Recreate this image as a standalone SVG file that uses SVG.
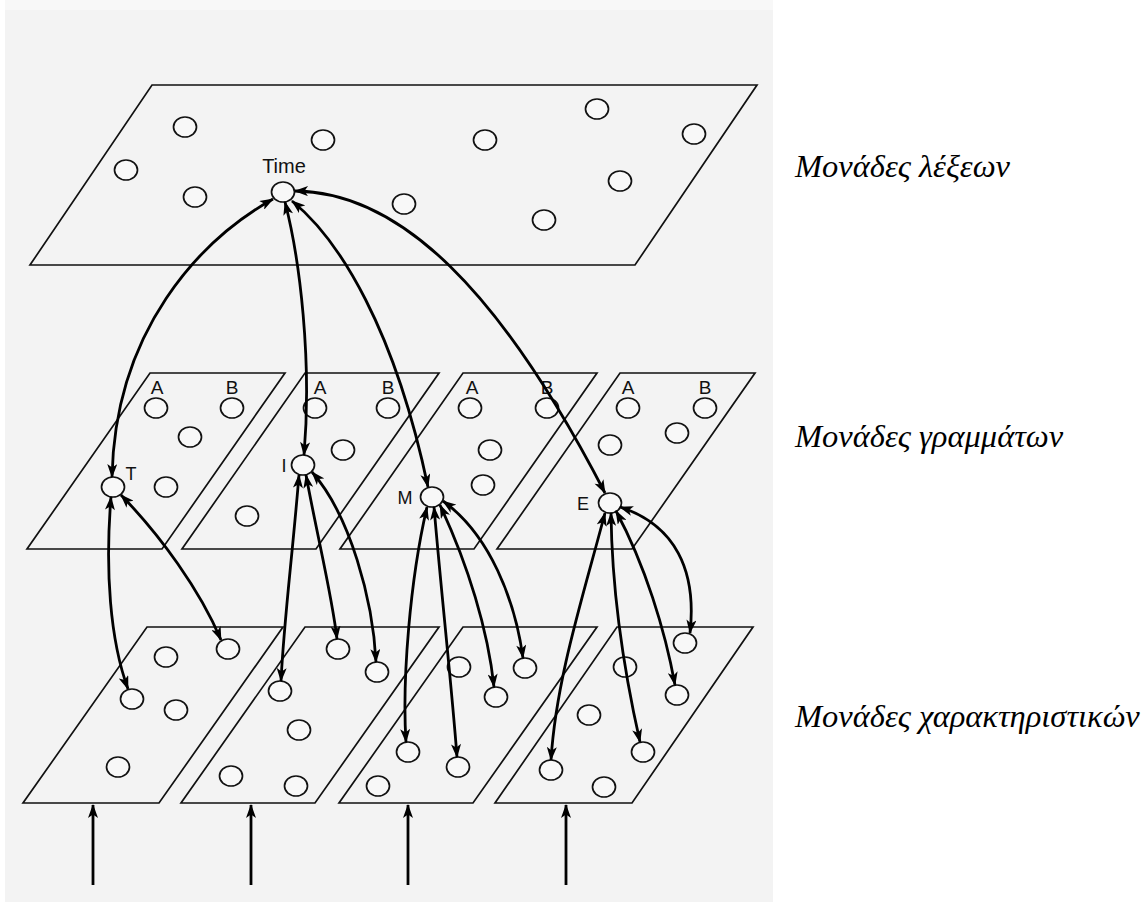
<svg xmlns="http://www.w3.org/2000/svg" width="1145" height="902" viewBox="0 0 1145 902">
<defs>
<marker id="ah" viewBox="0 0 14 10" markerWidth="15" markerHeight="10" markerUnits="userSpaceOnUse" refX="13" refY="5" orient="auto-start-reverse">
<path d="M0,0 L14,5 L0,10 L3.5,5 z" fill="#000"/>
</marker>
<style>
.plane{fill:none;stroke:#111;stroke-width:1.7;stroke-linejoin:miter}
.n{fill:#f8f8f8;stroke:#111;stroke-width:1.7}
.lab{font-family:"Liberation Sans",Arial,sans-serif;fill:#111;text-anchor:middle}
.c{fill:none;stroke:#000;stroke-width:2.8;marker-start:url(#ah);marker-end:url(#ah)}
.in{fill:none;stroke:#000;stroke-width:2.8;marker-end:url(#ah)}
.side{font-family:"Liberation Serif","Times New Roman",serif;font-style:italic;font-size:32.5px;fill:#000}
</style>
</defs>
<rect x="0" y="0" width="1145" height="902" fill="#fff"/>
<rect x="5" y="0" width="768" height="10" fill="#f8f8f8"/>
<rect x="5" y="10" width="768" height="892" fill="#f3f3f3"/>

<g id="planes">
<polygon class="plane" points="152,85 757,85 635,265 30,265"/>
<polygon class="plane" points="150,373 285,373 162,549 27,549"/>
<polygon class="plane" points="305,373 439,373 316,549 182,549"/>
<polygon class="plane" points="463,373 597,373 474,549 340,549"/>
<polygon class="plane" points="620,373 755,373 632,549 497,549"/>
<polygon class="plane" points="147,627 283,627 159,803 23,803"/>
<polygon class="plane" points="305,627 439,627 315,803 181,803"/>
<polygon class="plane" points="463,627 597,627 473,803 339,803"/>
<polygon class="plane" points="617,627 753,627 632,803 495,803"/>
</g>

<g id="word-units">
<g id="w1"><ellipse class="n" cx="185" cy="127" rx="11.5" ry="10"/></g>
<g id="w2"><ellipse class="n" cx="323" cy="140" rx="11.5" ry="10"/></g>
<g id="w3"><ellipse class="n" cx="126" cy="170" rx="11.5" ry="10"/></g>
<g id="w4"><ellipse class="n" cx="195" cy="197" rx="11.5" ry="10"/></g>
<g id="time"><ellipse class="n" cx="283" cy="192" rx="11.5" ry="10"/><text class="lab" x="284" y="173" font-size="20">Time</text></g>
<g id="w6"><ellipse class="n" cx="404" cy="204" rx="11.5" ry="10"/></g>
<g id="w7"><ellipse class="n" cx="597" cy="109" rx="11.5" ry="10"/></g>
<g id="w8"><ellipse class="n" cx="485" cy="140" rx="11.5" ry="10"/></g>
<g id="w9"><ellipse class="n" cx="694" cy="134" rx="11.5" ry="10"/></g>
<g id="w10"><ellipse class="n" cx="620" cy="181" rx="11.5" ry="10"/></g>
<g id="w11"><ellipse class="n" cx="544" cy="220" rx="11.5" ry="10"/></g>
</g>

<g id="letter-units">
<g id="l1-labels"><text class="lab" x="157" y="394" font-size="19">A</text><text class="lab" x="232" y="394" font-size="19">B</text></g>
<g id="l1a"><ellipse class="n" cx="156" cy="408" rx="11.5" ry="10"/></g>
<g id="l1b"><ellipse class="n" cx="232" cy="408" rx="11.5" ry="10"/></g>
<g id="l1c"><ellipse class="n" cx="190" cy="437" rx="11.5" ry="10"/></g>
<g id="l1d"><ellipse class="n" cx="166" cy="487" rx="11.5" ry="10"/></g>
<g id="letT"><ellipse class="n" cx="113" cy="487" rx="11.5" ry="10"/><text class="lab" x="131" y="480" font-size="18">T</text></g>

<g id="l2-labels"><text class="lab" x="320" y="394" font-size="19">A</text><text class="lab" x="388" y="394" font-size="19">B</text></g>
<g id="l2a"><ellipse class="n" cx="315" cy="408" rx="11.5" ry="10"/></g>
<g id="l2b"><ellipse class="n" cx="388" cy="408" rx="11.5" ry="10"/></g>
<g id="l2c"><ellipse class="n" cx="343" cy="450" rx="11.5" ry="10"/></g>
<g id="l2d"><ellipse class="n" cx="247" cy="516" rx="11.5" ry="10"/></g>
<g id="letI"><ellipse class="n" cx="303" cy="465" rx="11.5" ry="10"/><text class="lab" x="284" y="472" font-size="18">I</text></g>

<g id="l3-labels"><text class="lab" x="472" y="394" font-size="19">A</text><text class="lab" x="547" y="394" font-size="19">B</text></g>
<g id="l3a"><ellipse class="n" cx="470" cy="408" rx="11.5" ry="10"/></g>
<g id="l3b"><ellipse class="n" cx="547" cy="408" rx="11.5" ry="10"/></g>
<g id="l3c"><ellipse class="n" cx="490" cy="450" rx="11.5" ry="10"/></g>
<g id="l3d"><ellipse class="n" cx="483" cy="485" rx="11.5" ry="10"/></g>
<g id="letM"><ellipse class="n" cx="432" cy="497" rx="11.5" ry="10"/><text class="lab" x="405" y="504" font-size="18">M</text></g>

<g id="l4-labels"><text class="lab" x="628" y="394" font-size="19">A</text><text class="lab" x="705" y="394" font-size="19">B</text></g>
<g id="l4a"><ellipse class="n" cx="628" cy="408" rx="11.5" ry="10"/></g>
<g id="l4b"><ellipse class="n" cx="705" cy="408" rx="11.5" ry="10"/></g>
<g id="l4c"><ellipse class="n" cx="677" cy="433" rx="11.5" ry="10"/></g>
<g id="l4d"><ellipse class="n" cx="610" cy="445" rx="11.5" ry="10"/></g>
<g id="letE"><ellipse class="n" cx="610" cy="503" rx="11.5" ry="10"/><text class="lab" x="583" y="510" font-size="18">E</text></g>
</g>

<g id="feature-units">
<g id="f1a"><ellipse class="n" cx="228" cy="649" rx="11.5" ry="10"/></g>
<g id="f1b"><ellipse class="n" cx="166" cy="657" rx="11.5" ry="10"/></g>
<g id="f1c"><ellipse class="n" cx="132" cy="699" rx="11.5" ry="10"/></g>
<g id="f1d"><ellipse class="n" cx="176" cy="710" rx="11.5" ry="10"/></g>
<g id="f1e"><ellipse class="n" cx="118" cy="767" rx="11.5" ry="10"/></g>
<g id="f2a"><ellipse class="n" cx="338" cy="649" rx="11.5" ry="10"/></g>
<g id="f2b"><ellipse class="n" cx="377" cy="672" rx="11.5" ry="10"/></g>
<g id="f2c"><ellipse class="n" cx="280" cy="691" rx="11.5" ry="10"/></g>
<g id="f2d"><ellipse class="n" cx="299" cy="730" rx="11.5" ry="10"/></g>
<g id="f2e"><ellipse class="n" cx="231" cy="776" rx="11.5" ry="10"/></g>
<g id="f2f"><ellipse class="n" cx="296" cy="786" rx="11.5" ry="10"/></g>
<g id="f3a"><ellipse class="n" cx="459" cy="667" rx="11.5" ry="10"/></g>
<g id="f3b"><ellipse class="n" cx="525" cy="668" rx="11.5" ry="10"/></g>
<g id="f3c"><ellipse class="n" cx="496" cy="697" rx="11.5" ry="10"/></g>
<g id="f3d"><ellipse class="n" cx="408" cy="752" rx="11.5" ry="10"/></g>
<g id="f3e"><ellipse class="n" cx="458" cy="767" rx="11.5" ry="10"/></g>
<g id="f3f"><ellipse class="n" cx="378" cy="786" rx="11.5" ry="10"/></g>
<g id="f4a"><ellipse class="n" cx="685" cy="643" rx="11.5" ry="10"/></g>
<g id="f4b"><ellipse class="n" cx="625" cy="667" rx="11.5" ry="10"/></g>
<g id="f4c"><ellipse class="n" cx="677" cy="695" rx="11.5" ry="10"/></g>
<g id="f4d"><ellipse class="n" cx="589" cy="715" rx="11.5" ry="10"/></g>
<g id="f4e"><ellipse class="n" cx="643" cy="752" rx="11.5" ry="10"/></g>
<g id="f4f"><ellipse class="n" cx="551" cy="770" rx="11.5" ry="10"/></g>
<g id="f4g"><ellipse class="n" cx="604" cy="787" rx="11.5" ry="10"/></g>
</g>

<g id="connectors">
<path class="c" d="M273,199 C200,240 115,330 112,477"/>
<path class="c" d="M285,202 C300,260 312,360 304,455"/>
<path class="c" d="M292,201 C340,240 395,330 428,487"/>
<path class="c" d="M295,191 C400,192 500,290 605,493"/>
<path class="c" d="M111,497 C105,570 110,640 128,689"/>
<path class="c" d="M121,495 C160,535 200,590 221,640"/>
<path class="c" d="M299,475 C292,560 284,620 281,681"/>
<path class="c" d="M306,475 C318,540 332,595 337,639"/>
<path class="c" d="M312,472 C350,515 373,600 376,662"/>
<path class="c" d="M427,507 C410,580 402,680 406,742"/>
<path class="c" d="M434,507 C442,600 452,690 457,757"/>
<path class="c" d="M440,505 C468,565 488,630 494,687"/>
<path class="c" d="M443,501 C490,535 515,600 523,658"/>
<path class="c" d="M605,513 C582,600 556,680 551,760"/>
<path class="c" d="M611,513 C612,600 626,680 640,742"/>
<path class="c" d="M616,511 C645,565 665,630 675,685"/>
<path class="c" d="M620,507 C675,525 697,570 690,633"/>
<path class="in" d="M93,885 L93,805"/>
<path class="in" d="M251,885 L251,805"/>
<path class="in" d="M408,885 L408,805"/>
<path class="in" d="M566,885 L566,805"/>
</g>

<g id="layer-labels">
<text class="side" x="795" y="177">Μονάδες λέξεων</text>
<text class="side" x="795" y="447">Μονάδες γραμμάτων</text>
<text class="side" x="795" y="727">Μονάδες χαρακτηριστικών</text>
</g>
</svg>
